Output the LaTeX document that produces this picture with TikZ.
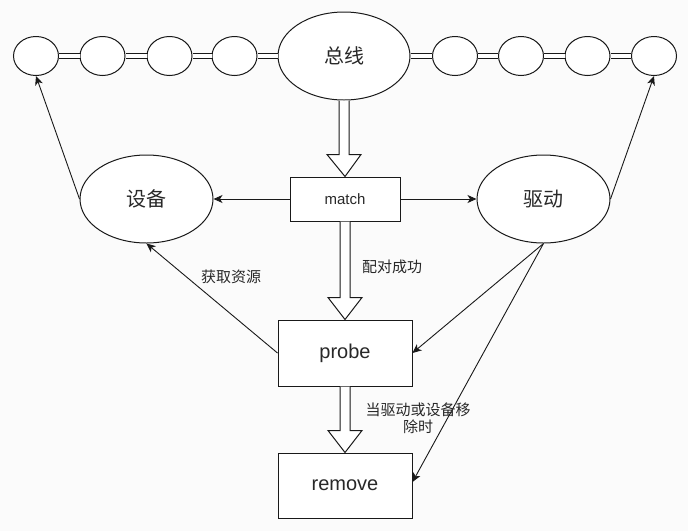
\documentclass[tikz,border=0pt]{standalone}
\usepackage{fontspec}
\setmainfont{Liberation Sans}
\newfontfamily\cjk{Noto Sans CJK SC}
\usetikzlibrary{shapes.geometric,arrows.meta,calc}
\newcommand\szL{\fontsize{20}{24}\selectfont}
\newcommand\szS{\fontsize{15}{17}\selectfont}
\definecolor{bgc}{RGB}{251,251,251}
\definecolor{ink}{RGB}{40,40,40}
\tikzset{
  base/.style={draw=black!90, line width=1pt, fill=white, text=ink, inner sep=0pt},
  bead/.style={base, ellipse, minimum width=45pt, minimum height=39pt},
  bigell/.style={base, ellipse, minimum width=133pt, minimum height=88pt, font=\cjk\szL},
  boxn/.style={base, rectangle, minimum width=134pt, minimum height=66pt, font=\szL},
  link/.style={draw=black!90, line width=1pt, double=white, double distance=3.8pt},
  arr/.style={draw=black!90, line width=0.9pt, -{Stealth[length=9pt,width=8pt,inset=2.5pt]}},
  hollow/.style={draw=black!90, line width=1pt, fill=white},
  lbl/.style={text=ink, font=\cjk\szS, inner sep=0pt, align=center},
}
\newcommand\hollowarrow[2]{%
  \draw[hollow] let \p1=(#1.south), \p2=(#2.north) in
    (\x1-5pt,\y1) -- (\x1-5pt,\y2+22pt) -- (\x1-17pt,\y2+22pt) -- (\x2,\y2)
    -- (\x1+17pt,\y2+22pt) -- (\x1+5pt,\y2+22pt) -- (\x1+5pt,\y1);}
\begin{document}
\begin{tikzpicture}[x=1pt,y=-1pt]
  \fill[bgc] (0,0) rectangle (688,531);
  \useasboundingbox (0,0) rectangle (688,531);
  % bus row
  \node[base, ellipse, minimum width=132pt, minimum height=88pt, font=\cjk\szL] (bus) at (344,56) {总线};
  \node[bead] (c1) at (36,56) {};
  \node[bead] (c2) at (102.5,56) {};
  \node[bead] (c3) at (169.5,56) {};
  \node[bead] (c4) at (234.5,56) {};
  \node[bead] (c5) at (455,56) {};
  \node[bead] (c6) at (521,56) {};
  \node[bead] (c7) at (587.5,56) {};
  \node[bead] (c8) at (654,56) {};
  \draw[link] (c1.east) -- (c2.west);
  \draw[link] (c2.east) -- (c3.west);
  \draw[link] (c3.east) -- (c4.west);
  \draw[link] (c4.east) -- (bus.west);
  \draw[link] (bus.east) -- (c5.west);
  \draw[link] (c5.east) -- (c6.west);
  \draw[link] (c6.east) -- (c7.west);
  \draw[link] (c7.east) -- (c8.west);
  % middle
  \node[bigell] (dev) at (146.5,199) {设备};
  \node[bigell] (drv) at (543.5,199) {驱动};
  \node[base, rectangle, minimum width=110pt, minimum height=44pt, font=\szS] (match) at (345,199) {match};
  \node[boxn] (probe) at (345,353) {probe};
  \node[boxn, minimum height=65pt] (remove) at (345,485.5) {remove};
  % hollow arrows
  \hollowarrow{bus}{match}
  \hollowarrow{match}{probe}
  \hollowarrow{probe}{remove}
  % thin arrows
  \draw[arr] (match.west) -- (dev.east);
  \draw[arr] (match.east) -- (drv.west);
  \draw[arr] (dev.west) -- (c1.south);
  \draw[arr] (drv.east) -- (c8.south);
  \draw[arr] (probe.west) -- (dev.south);
  \draw[arr] (drv.south) -- (probe.east);
  \coordinate (rmin) at ($(remove.east)+(0,-3.5)$);
  \draw[arr] (drv.south) -- (rmin);
  % labels
  \node[lbl] (l1) at (392,267) {配对成功};
  \node[lbl] (l2) at (231,277) {获取资源};
  \node[lbl] (l3) at (418,418.5) {当驱动或设备移\\除时};
\end{tikzpicture}
\end{document}
